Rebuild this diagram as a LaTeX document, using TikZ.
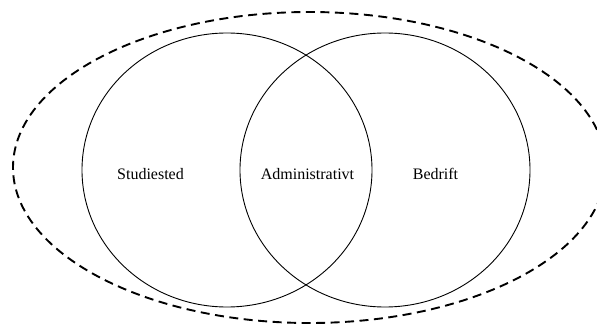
\documentclass[tikz,border=0pt]{standalone}
\usepackage{fontspec}
\setmainfont{Liberation Serif}
\begin{document}
\begin{tikzpicture}[x=1pt,y=-1pt,
  setcircle/.style={draw=black, line width=0.9pt},
  outerdash/.style={draw=black, line width=1.9pt, dash pattern=on 9pt off 5.5pt},
  lbl/.style={font=\fontsize{16}{19}\selectfont, inner sep=0pt}]
\useasboundingbox (0,0) rectangle (597,326);
\begin{scope}
\clip (0,0) rectangle (597,326);
\draw[outerdash] (309.4,167.5) ellipse [x radius=296.4, y radius=155.5];
\end{scope}
\draw[setcircle] (227,170) ellipse [x radius=145, y radius=137];
\draw[setcircle] (385,170) ellipse [x radius=145, y radius=137];
\node[lbl] (stud) at (150.5,174) {Studiested};
\node[lbl] (adm) at (307.5,174) {Administrativt};
\node[lbl] (bed) at (435.5,174) {Bedrift};
\end{tikzpicture}
\end{document}
